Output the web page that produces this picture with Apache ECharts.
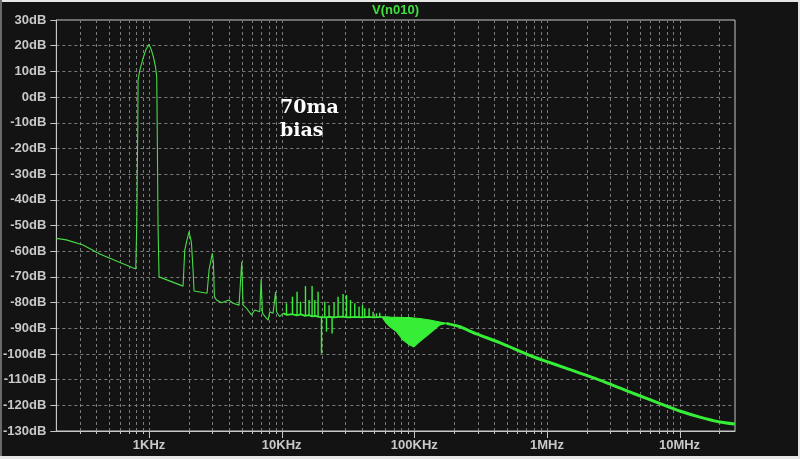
<!DOCTYPE html>
<html><head><meta charset="utf-8">
<script src="https://cdn.jsdelivr.net/npm/echarts@6/dist/echarts.min.js"></script>
<style>html,body{margin:0;padding:0;background:#131313;}#c{width:800px;height:459px;}</style>
</head><body><div id="c"></div>
<script>
// ---- data (frequency in Hz, level in dB) ----
const lowFreq = [200,238,318,425,568,794,808,822,826,851,901,944,1000,1042,1085,1123,1143,1153,1169,1190,
  1805,1859,1934,2003,2088,2147,2185,2738,2835,3000,3060,3110,3224,3516,3614,4012,4300,4771,5000,5116,
  5426,5918,6268,6836,7000,7165,7898,8135,8612,9000,9138,9676,10247];
const lowDb = [-55.0,-55.6,-57.6,-61.1,-63.8,-66.9,-49.8,-12.8,6.6,10.3,15.1,18.3,20.5,18.3,15.1,11.2,7.7,-12.8,-50.6,-70.0,
  -73.6,-59.5,-55.6,-52.4,-56.8,-67.3,-75.5,-76.4,-67.3,-60.8,-64.6,-77.7,-79.0,-80.1,-79.7,-79.0,-80.3,-81.0,-64.1,-81.0,
  -82.2,-84.8,-82.9,-83.6,-70.9,-84.2,-86.8,-83.6,-84.2,-75.8,-83.6,-85.5,-84.2];

// noise floor between 10 kHz and the dense band
const midFreq = [10247,11000,12000,13000,14000,15000,16000,17000,18000,19000,19600,21000,23000,25000,28000,32000,36000,40000,45000,50000,57000];
const midDb   = [-84.2,-84.8,-84.5,-85.0,-84.6,-85.2,-84.9,-85.4,-85.2,-85.6,-85.5,-85.8,-85.6,-85.8,-85.5,-85.8,-85.6,-85.8,-85.6,-85.8,-85.6];

// narrow spikes standing on the noise floor (tip level)
const spikeFreq = [10870,12063,13064,13866,15118,16090,16960,17770,18813,19966,21135,21776,22780,23994,24846,26628,
  29040,30815,33029,35587,38340,40684,42340,45614,48900,51870,54925];
const spikeTop  = [-80.3,-77.7,-75.8,-79.7,-73.6,-79.0,-73.6,-79.0,-75.8,-99.8,-79.7,-91.3,-81.0,-92.0,-80.1,-77.7,
  -76.7,-77.1,-79.0,-80.3,-81.6,-81.0,-82.2,-82.2,-83.6,-84.2,-84.0];
const spikeBase = [-84.8,-84.5,-85.0,-84.6,-85.2,-84.9,-85.4,-85.2,-85.6,-85.5,-85.8,-85.7,-85.6,-85.7,-85.8,-85.6,
  -85.6,-85.7,-85.8,-85.7,-85.6,-85.7,-85.7,-85.6,-85.7,-85.8,-85.7];

const bandFreq  = [57000,61700,66000,73400,82330,92500,99130,110000,130900,155800,174900];
const bandUpper = [-85.6,-85.6,-85.7,-85.8,-85.9,-85.9,-86.0,-86.2,-86.8,-87.6,-88.1];
const bandLower = [-85.6,-88.1,-89.5,-91.3,-94.6,-96.5,-97.2,-95.2,-92.0,-88.7,-88.1];

const tailFreq = [174900,220300,294500,441300,787000,1003500,1405000,2506000,4468000,7980000,10050000,14230000,20100000,26100000];
const tailDb   = [-88.1,-89.4,-92.2,-95.6,-101.1,-103.0,-105.6,-110.2,-115.3,-120.3,-122.2,-124.6,-126.5,-127.3];

const gridFreqs = [300,400,500,600,700,800,900,1000,2000,3000,4000,5000,6000,7000,8000,9000,
  10000,20000,30000,40000,50000,60000,70000,80000,90000,100000,200000,300000,400000,500000,600000,700000,800000,900000,
  1000000,2000000,3000000,4000000,5000000,6000000,7000000,8000000,9000000,10000000,20000000];
const decadeLabels = {3:'1KHz',4:'10KHz',5:'100KHz',6:'1MHz',7:'10MHz'};

const X_MIN = 200, X_MAX = 26200000, Y_MIN = -130, Y_MAX = 30, Y_STEP = 10;
const TRACE = 'V(n010)';
const NOTE = '70ma\nbias';

// ---- chart ----
const chart = echarts.init(document.getElementById('c'), null, {renderer:'canvas'});
const AX = '#c8c8c8', GRID = '#7c7c7c';
const pairs = (fs, vs) => fs.map((f, i) => [f, vs[i]]);
function isDecade(f){ const l = Math.log10(f); return Math.abs(l - Math.round(l)) < 1e-6; }

chart.setOption({
  backgroundColor: '#131313',
  animation: false,
  title: {
    text: TRACE, left: 372, top: 4, padding: 0,
    textStyle: {color: '#3ee03e', fontFamily: 'Liberation Sans', fontWeight: 'bold', fontSize: 13}
  },
  grid: {left: 56, top: 20, width: 679, height: 411, show: true, borderColor: AX, borderWidth: 1, backgroundColor: 'transparent'},
  xAxis: {
    type: 'log', min: X_MIN, max: X_MAX, logBase: 10,
    axisLine: {show: true, onZero: false, lineStyle: {color: AX}},
    axisTick: {show: false},
    splitLine: {show: false},
    axisLabel: {
      color: AX, fontFamily: 'Liberation Sans', fontWeight: 'bold', fontSize: 13, margin: 8,
      formatter: v => { const l = Math.round(Math.log10(v)); return isDecade(v) && decadeLabels[l] ? decadeLabels[l] : ''; }
    }
  },
  yAxis: {
    type: 'value', min: Y_MIN, max: Y_MAX, interval: Y_STEP,
    axisLine: {show: true, lineStyle: {color: AX}},
    axisTick: {show: true, length: 6, lineStyle: {color: AX}},
    splitLine: {show: true, showMinLine: false, showMaxLine: false, lineStyle: {color: GRID, type: [3, 3], width: 1}},
    axisLabel: {color: AX, fontFamily: 'Liberation Sans', fontWeight: 'bold', fontSize: 13, margin: 10, formatter: '{value}dB'}
  },
  graphic: [
    {type: 'rect', shape: {x: 0, y: 0, width: 800, height: 2}, style: {fill: '#e6e6e6'}, silent: true},
    {type: 'rect', shape: {x: 798, y: 0, width: 2, height: 459}, style: {fill: '#e6e6e6'}, silent: true},
    {type: 'rect', shape: {x: 0, y: 456, width: 800, height: 3}, style: {fill: '#e6e6e6'}, silent: true},
    {type: 'rect', shape: {x: 0, y: 0, width: 2, height: 456}, style: {fill: '#6a6a6a'}, silent: true},
    {type: 'text', x: 280, y: 96, silent: true, z: 10,
     style: {text: NOTE, fill: '#ffffff', font: 'bold 19px "DejaVu Serif"', lineHeight: 23.4, verticalAlign: 'top'}}
  ],
  series: [
    {
      type: 'custom', silent: true, clip: false, z: 1,
      data: gridFreqs.map(f => [f, Y_MIN]),
      renderItem: (params, api) => {
        const f = api.value(0);
        const t = api.coord([f, Y_MAX]), b = api.coord([f, Y_MIN]);
        const x = Math.round(t[0]) + 0.5;
        return {type: 'group', children: [
          {type: 'line', shape: {x1: x, y1: t[1], x2: x, y2: b[1]}, style: {stroke: GRID, lineWidth: 1, lineDash: [3, 3]}},
          {type: 'line', shape: {x1: x, y1: b[1], x2: x, y2: b[1] + (isDecade(f) ? 7 : 3)}, style: {stroke: AX, lineWidth: 1}}
        ]};
      }
    },
    {
      type: 'custom', silent: true, z: 3,
      data: [[bandFreq[0], bandUpper[0]]],
      renderItem: (params, api) => {
        const pts = [];
        for (let i = 0; i < bandFreq.length; i++) pts.push(api.coord([bandFreq[i], bandUpper[i]]));
        for (let i = bandFreq.length - 1; i >= 0; i--) pts.push(api.coord([bandFreq[i], bandLower[i]]));
        return {type: 'polygon', shape: {points: pts}, style: {fill: '#36ee36', stroke: '#36ee36', lineWidth: 1.2}};
      }
    },
    {
      type: 'custom', silent: true, z: 4,
      data: spikeFreq.map((f, i) => [f, spikeTop[i], spikeBase[i]]),
      renderItem: (params, api) => {
        const a = api.coord([api.value(0), api.value(2)]), b = api.coord([api.value(0), api.value(1)]);
        return {type: 'line', shape: {x1: a[0], y1: a[1], x2: b[0], y2: b[1]}, style: {stroke: '#3cee3c', lineWidth: 1.4}};
      }
    },
    {type: 'line', data: pairs(lowFreq, lowDb), symbol: 'none', z: 4, lineStyle: {color: '#48dc48', width: 1.1}},
    {type: 'line', data: pairs(midFreq, midDb), symbol: 'none', z: 4, lineStyle: {color: '#38ee38', width: 1.8}},
    {type: 'line', data: pairs(tailFreq, tailDb), symbol: 'none', z: 4, smooth: 0.2, lineStyle: {color: '#36ee36', width: 3}}
  ]
});
</script></body></html>
